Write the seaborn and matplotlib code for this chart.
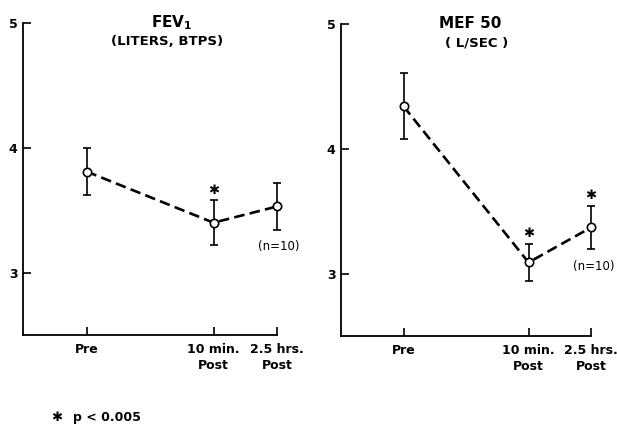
import numpy as np
import matplotlib
matplotlib.use('Agg')
import matplotlib.pyplot as plt
import seaborn as sns

# time points (x positions follow the original uneven spacing)
time_labels = ['Pre', '10 min.\nPost', '2.5 hrs.\nPost']
time_pos = [1, 3, 4]

# FEV1 (liters, BTPS)
fev_mean = [3.81, 3.40, 3.53]
fev_err = [0.185, 0.18, 0.19]
fev_sig = [False, True, False]

# MEF 50 (L/sec)
mef_mean = [4.34, 3.09, 3.37]
mef_err = [0.265, 0.15, 0.175]
mef_sig = [False, True, True]

sns.set_style('ticks')
plt.rcParams['font.family'] = ['DejaVu Sans']
plt.rcParams['font.weight'] = 'bold'
plt.rcParams['text.color'] = 'black'
plt.rcParams['xtick.labelcolor'] = 'black'
plt.rcParams['ytick.labelcolor'] = 'black'

fig = plt.figure(figsize=(6.17, 4.26), dpi=100)
ax1 = fig.add_axes([0.0373, 0.2136, 0.4117, 0.7324])
ax2 = fig.add_axes([0.5527, 0.211, 0.4053, 0.733])


def draw_panel(ax, mean, err, sig, title, units, title_x, units_x, n_xy):
    mean = np.array(mean)
    err = np.array(err)
    ax.errorbar(time_pos, mean, yerr=err, fmt='none', ecolor='black',
                elinewidth=1.2, capsize=3, capthick=1.2, zorder=2,
                clip_on=False)
    sns.lineplot(x=time_pos, y=mean, ax=ax, color='black', lw=1.9,
                 linestyle=(0, (4, 2)), marker='o', markersize=6,
                 markerfacecolor='white', markeredgecolor='black',
                 markeredgewidth=1.2, zorder=3, clip_on=False)
    # significance stars above the error bars
    for x, m, e, s in zip(time_pos, mean, err, sig):
        if s:
            ax.text(x, m + e + 0.08, '\u2731', ha='center', va='center',
                    fontsize=9.5)
    ax.text(title_x, 5.0, title, ha='center', va='center', fontsize=11)
    ax.text(units_x, 4.85, units, ha='center', va='center', fontsize=9.5)
    ax.text(n_xy[0], n_xy[1], '(n=10)', ha='center', va='center', fontsize=8.5,
            fontweight='normal')

    ax.set_xlim(0, 4)
    ax.set_ylim(2.5, 5)
    ax.set_yticks([3, 4, 5])
    ax.set_yticklabels(['3', '4', '5'])
    ax.set_xticks(time_pos)
    ax.set_xticklabels(time_labels, linespacing=1.25)
    ax.tick_params(direction='in', length=6, width=1.2, labelsize=9,
                   color='black', pad=6)
    ax.tick_params(axis='y', pad=4, labelsize=9)
    sns.despine(ax=ax)
    for sp in ['left', 'bottom']:
        ax.spines[sp].set_linewidth(1.3)
        ax.spines[sp].set_color('black')


draw_panel(ax1, fev_mean, fev_err, fev_sig, 'FEV$_\\mathregular{1}$',
           '(LITERS, BTPS)', 2.34, 2.27, (4.03, 3.21))
draw_panel(ax2, mef_mean, mef_err, mef_sig, 'MEF 50',
           '( L/SEC )', 2.06, 2.17, (4.04, 3.06))

fig.text(0.092, 0.019, '\u2731', ha='center', va='center', fontsize=9.5)
fig.text(0.118, 0.021, 'p < 0.005', ha='left', va='center', fontsize=9)

fig.savefig('out.png', dpi=100)
